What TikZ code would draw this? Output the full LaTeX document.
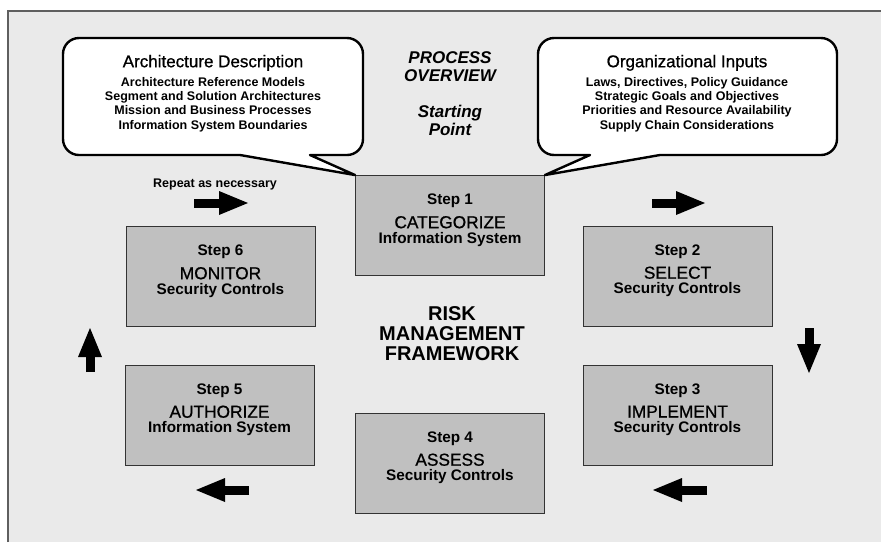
\documentclass[tikz,border=0pt]{standalone}
\usepackage{fontspec}
\setmainfont{Liberation Sans}
\newfontfamily\medfont[FakeBold=0.8]{Liberation Sans}
\usetikzlibrary{positioning,arrows.meta}

\definecolor{panelgray}{RGB}{234,234,234}
\definecolor{stepgray}{RGB}{192,192,192}
\definecolor{framegray}{RGB}{95,95,95}

\tikzset{
  stepbox/.style={rectangle, draw=black!80, line width=0.9pt, fill=stepgray,
    minimum width=189pt, minimum height=100pt, inner sep=0pt},
  steptext/.style={align=center, inner sep=0pt, anchor=north,
    font=\fontsize{15.3}{15}\selectfont\bfseries},
  bubble/.style={draw=black, line width=2.4pt, fill=white, line join=round},
  bubbletext/.style={align=center, inner sep=0pt, anchor=north,
    font=\fontsize{12.5}{14.2}\selectfont\bfseries},
  blockarrow/.style={line width=9pt, -{Triangle[length=29pt,width=24pt,line width=0pt]}},
  overview/.style={align=center, inner sep=0pt, font=\fontsize{17}{18.5}\selectfont\bfseries\itshape},
}

\begin{document}
\begin{tikzpicture}[x=1pt,y=-1pt]
    \useasboundingbox (0,0) rectangle (881,542);
    \fill[white] (0,0) rectangle (881,542);
    \fill[panelgray] (8,11) rectangle (881,542);
    \draw[framegray, line width=1.2pt] (8,542) -- (8,11) -- (881,11);

    % the six steps
    \node[stepbox] (s1) at (450,225.5) {};
    \node[stepbox] (s2) at (677.5,276) {};
    \node[stepbox] (s3) at (677.5,415) {};
    \node[stepbox] (s4) at (450,463) {};
    \node[stepbox] (s5) at (219.5,415) {};
    \node[stepbox] (s6) at (220.5,276.5) {};

    \node[steptext, below=19pt of s1.north] (t1) {Step 1\\[7pt]{\fontsize{17.3}{15}\medfont\mdseries CATEGORIZE}\\Information System};
    \node[steptext, below=19pt of s2.north] (t2) {Step 2\\[7pt]{\fontsize{17.3}{15}\medfont\mdseries SELECT}\\Security Controls};
    \node[steptext, below=19pt of s3.north] (t3) {Step 3\\[7pt]{\fontsize{17.3}{15}\medfont\mdseries IMPLEMENT}\\Security Controls};
    \node[steptext, below=19pt of s4.north] (t4) {Step 4\\[7pt]{\fontsize{17.3}{15}\medfont\mdseries ASSESS}\\Security Controls};
    \node[steptext, below=19pt of s5.north] (t5) {Step 5\\[7pt]{\fontsize{17.3}{15}\medfont\mdseries AUTHORIZE}\\Information System};
    \node[steptext, below=19pt of s6.north] (t6) {Step 6\\[7pt]{\fontsize{17.3}{15}\medfont\mdseries MONITOR}\\Security Controls};

    % callouts
    \draw[bubble] (310,155) -- (s1.north west) -- (240,155)
        {[rounded corners=16pt] -- (63,155) -- (63,38) -- (363,38) -- (363,155)} -- cycle;
    \draw[bubble] (590,155) -- (s1.north east) -- (660,155)
        {[rounded corners=16pt] -- (837,155) -- (837,38) -- (538,38) -- (538,155)} -- cycle;

    \node[bubbletext] (archdesc) at (213,54.7) {{\fontsize{17}{17}\medfont\mdseries Architecture Description}\\[5pt]%
        Architecture Reference Models\\Segment and Solution Architectures\\%
        Mission and Business Processes\\Information System Boundaries};
    \node[bubbletext] (orginputs) at (687,54.7) {{\fontsize{17}{17}\medfont\mdseries Organizational Inputs}\\[5pt]%
        Laws, Directives, Policy Guidance\\Strategic Goals and Objectives\\%
        Priorities and Resource Availability\\Supply Chain Considerations};

    \node[overview] (procov) at (450,66.5) {PROCESS\\OVERVIEW};
    \node[overview] (startpt) at (450,120.5) {Starting\\Point};

    \node[align=center, inner sep=0pt, font=\fontsize{20}{20}\selectfont\bfseries] (rmf) at (452,334) {RISK\\MANAGEMENT\\FRAMEWORK};

    \node[inner sep=0pt, font=\fontsize{12.5}{14}\selectfont\bfseries] (repeat) at (215,184) {Repeat as necessary};

    % cycle arrows
    \coordinate (a61) at (194,203);   \coordinate (b61) at (248,203);
    \coordinate (a12) at (652,203);   \coordinate (b12) at (705,203);
    \coordinate (a23) at (809,328);   \coordinate (b23) at (809,373);
    \coordinate (a34) at (707,490);   \coordinate (b34) at (653,490);
    \coordinate (a45) at (249,490);   \coordinate (b45) at (196,490);
    \coordinate (a56) at (90,372);    \coordinate (b56) at (90,328);

    \draw[blockarrow] (a61) -- (b61);
    \draw[blockarrow] (a12) -- (b12);
    \draw[blockarrow] (a23) -- (b23);
    \draw[blockarrow] (a34) -- (b34);
    \draw[blockarrow] (a45) -- (b45);
    \draw[blockarrow] (a56) -- (b56);
\end{tikzpicture}
\end{document}
